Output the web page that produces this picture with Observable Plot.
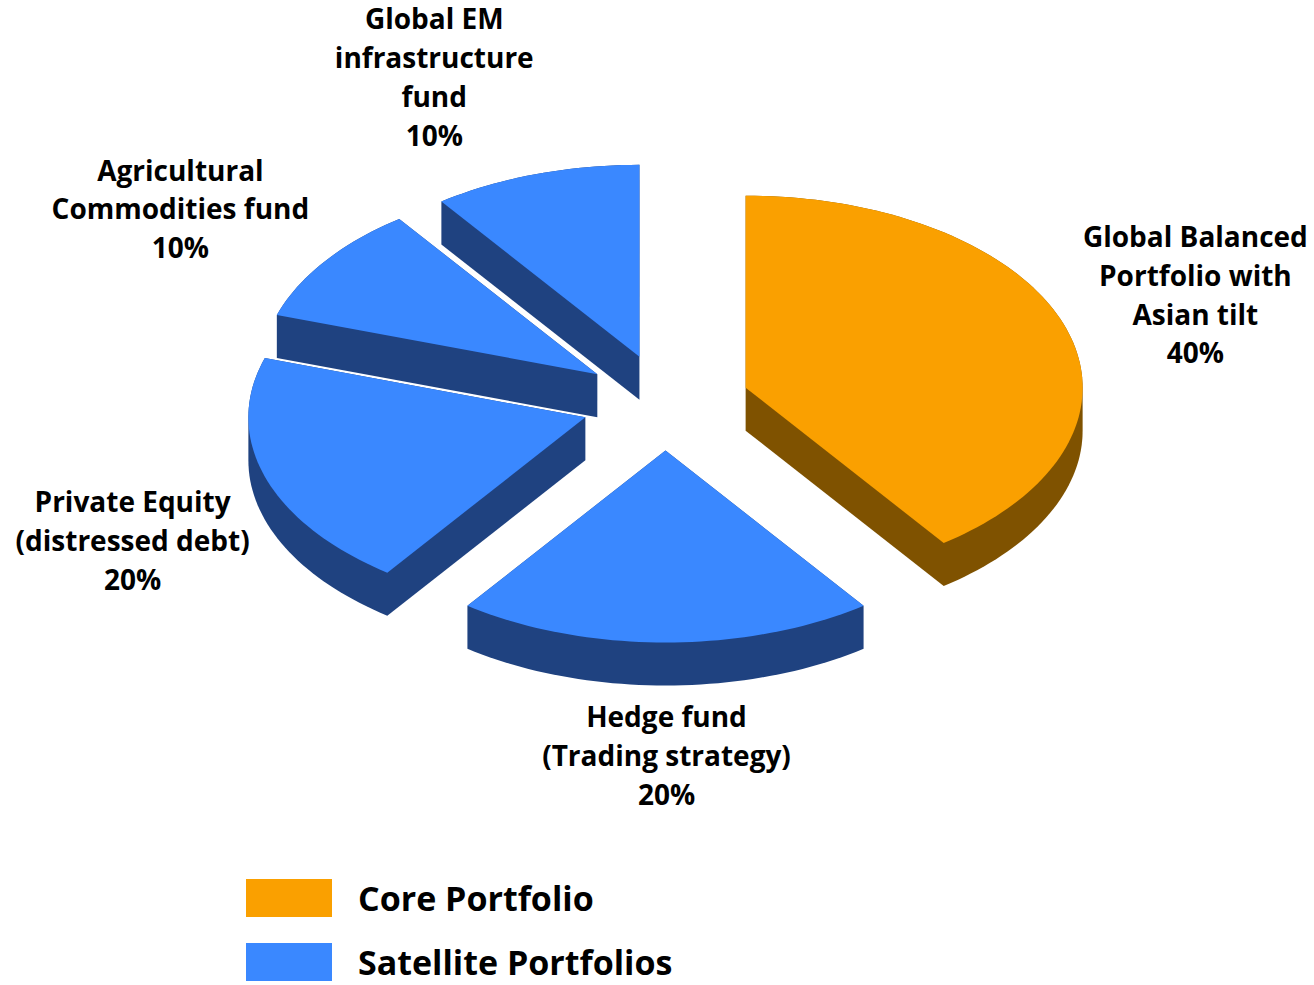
<!DOCTYPE html>
<html>
<head>
<meta charset="utf-8">
<script src="https://cdn.jsdelivr.net/npm/d3@7"></script>
<script src="https://cdn.jsdelivr.net/npm/@observablehq/plot@0.6"></script>
<style>
  html, body { margin: 0; padding: 0; background: #fff; }
  body { width: 1314px; height: 985px; overflow: hidden; font-family: "Open Sans", sans-serif; }
  #chart svg { display: block; }
  .legend { margin-left: 246px; margin-top: 19px; }
  .legend .row { display: flex; align-items: center; height: 38px; margin-bottom: 26px; }
  .legend .sw { width: 86px; height: 38px; margin-right: 26px; flex: none; }
  .legend .lab { font-weight: 700; font-size: 34px; color: #000; line-height: 30px; }
</style>
</head>
<body>
<div id="chart"></div>
<div class="legend" id="legend"></div>
<script>
// ---- data ----
const categories = [
  "Global Balanced\nPortfolio with\nAsian tilt",
  "Hedge fund\n(Trading strategy)",
  "Private Equity\n(distressed debt)",
  "Agricultural\nCommodities fund",
  "Global EM\ninfrastructure\nfund"
];
const shares = [40, 20, 20, 10, 10];
const groups = ["Core Portfolio", "Satellite Portfolios", "Satellite Portfolios", "Satellite Portfolios", "Satellite Portfolios"];
const legendLabels = ["Core Portfolio", "Satellite Portfolios"];

// ---- layout / style ----
const W = 1314, H = 860;
const cx = 665, cy = 402, rx = 337, ry = 192, explode = 0.25, depth = 43;
const topColor = {"Core Portfolio": "#FAA000", "Satellite Portfolios": "#3A88FF"};
const sideColor = {"Core Portfolio": "#7F5200", "Satellite Portfolios": "#1F4280"};
const labelRadius = 1.75;
const labelNudge = [[-31, -6], [1, 15], [28, 32], [-8, 2], [-49, -8]];

// ---- geometry from data ----
const total = d3.sum(shares);
let acc = 0;
const slices = shares.map((v, i) => {
  const a0 = acc / total * 2 * Math.PI;
  acc += v;
  const a1 = acc / total * 2 * Math.PI;
  const m = (a0 + a1) / 2;
  const ox = explode * rx * Math.sin(m), oy = -explode * ry * Math.cos(m);
  const top = [[cx + ox, cy + oy]];
  const n = Math.max(8, Math.round((a1 - a0) / (2 * Math.PI) * 240));
  for (let k = 0; k <= n; k++) {
    const a = a0 + (a1 - a0) * k / n;
    top.push([cx + ox + rx * Math.sin(a), cy + oy - ry * Math.cos(a)]);
  }
  const shifted = top.map(([x, y]) => [x, y + depth]);
  const side = d3.polygonHull(top.concat(shifted));
  const lx = cx + labelRadius * rx * Math.sin(m) + labelNudge[i][0];
  const ly = cy - labelRadius * ry * Math.cos(m) + labelNudge[i][1];
  return {i, a0, a1, m, top, side, apexY: cy + oy, label: categories[i] + "\n" + v + "%", lx, ly, group: groups[i]};
});

// painter's order: back (upper) slices first
const order = slices.slice().sort((a, b) => a.apexY - b.apexY);
const polys = [];
order.forEach(s => {
  s.side.forEach(([x, y]) => polys.push({id: s.i + "-side", x, y, color: sideColor[s.group]}));
  s.top.forEach(([x, y]) => polys.push({id: s.i + "-top", x, y, color: topColor[s.group]}));
});

const chart = Plot.plot({
  width: W,
  height: H,
  margin: 0,
  x: {domain: [0, W], range: [0, W], axis: null},
  y: {domain: [0, H], range: [0, H], axis: null},
  color: {type: "identity"},
  style: {fontFamily: "'Open Sans', sans-serif", background: "#fff"},
  marks: [
    Plot.line(polys, {x: "x", y: "y", z: "id", fill: "color", stroke: "none", curve: "linear-closed"}),
    Plot.text(slices, {
      x: "lx", y: "ly", text: "label",
      fontSize: 28, fontWeight: "bold", fill: "#000",
      textAnchor: "middle", lineAnchor: "middle", lineHeight: 1.39
    })
  ]
});
document.getElementById("chart").appendChild(chart);

const legend = document.getElementById("legend");
legendLabels.forEach(l => {
  const row = document.createElement("div");
  row.className = "row";
  const sw = document.createElement("div");
  sw.className = "sw";
  sw.style.background = topColor[l];
  const lab = document.createElement("div");
  lab.className = "lab";
  lab.textContent = l;
  row.appendChild(sw); row.appendChild(lab);
  legend.appendChild(row);
});
</script>
</body>
</html>
